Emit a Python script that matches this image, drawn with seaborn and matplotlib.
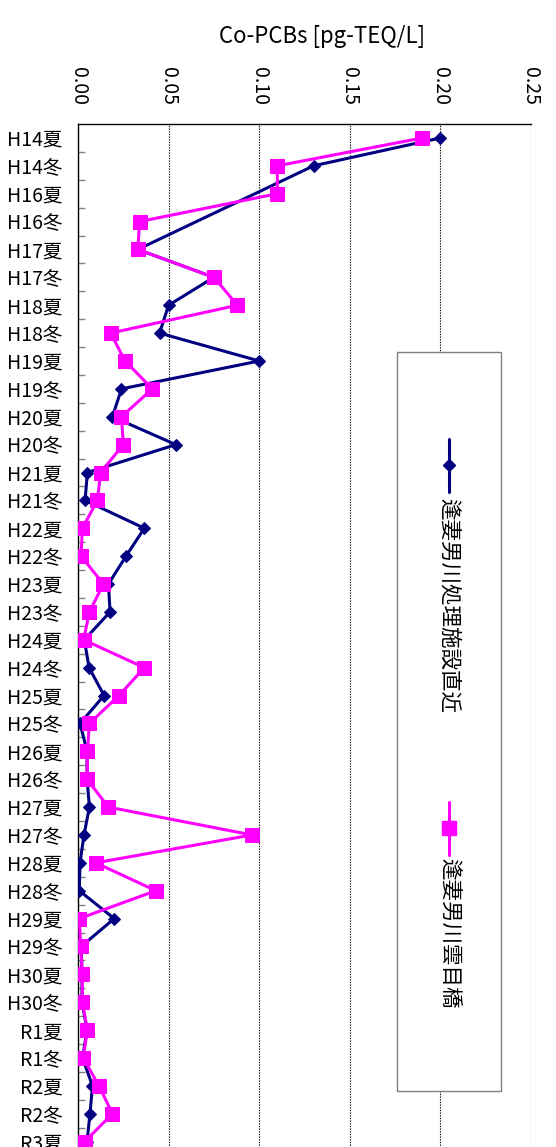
import numpy as np
import pandas as pd
import matplotlib
matplotlib.use("Agg")
import matplotlib.pyplot as plt
from matplotlib.lines import Line2D
from matplotlib.patches import Rectangle
import seaborn as sns

# Survey periods (top to bottom)
categories = [
    "H14夏", "H14冬", "H16夏", "H16冬", "H17夏", "H17冬", "H18夏", "H18冬",
    "H19夏", "H19冬", "H20夏", "H20冬", "H21夏", "H21冬", "H22夏", "H22冬",
    "H23夏", "H23冬", "H24夏", "H24冬", "H25夏", "H25冬", "H26夏", "H26冬",
    "H27夏", "H27冬", "H28夏", "H28冬", "H29夏", "H29冬", "H30夏", "H30冬",
    "R1夏", "R1冬", "R2夏", "R2冬", "R3夏",
]

# Co-PCBs concentration [pg-TEQ/L]
site_a_name = "逢妻男川処理施設直近"
site_a = [
    0.200, 0.130, np.nan, np.nan, 0.033, 0.075, 0.050, 0.045,
    0.100, 0.024, 0.019, 0.054, 0.0052, 0.0039, 0.0366, 0.0265,
    0.0168, 0.0177, 0.0035, 0.0061, 0.0144, 0.0011, 0.0050, 0.0050,
    0.0063, 0.0033, 0.0011, 0.0007, 0.0200, 0.0018, 0.0022, 0.0022,
    0.0050, 0.0025, 0.0080, 0.0066, 0.0050,
]

site_b_name = "逢妻男川雲目橋"
site_b = [
    0.190, 0.110, 0.110, 0.034, 0.033, 0.075, 0.088, 0.018,
    0.026, 0.041, 0.024, 0.025, 0.0125, 0.0107, 0.0024, 0.0017,
    0.0140, 0.0063, 0.0031, 0.0366, 0.0226, 0.0063, 0.0052, 0.0050,
    0.0167, 0.096, 0.0098, 0.043, 0.0007, 0.0015, 0.0024, 0.0024,
    0.0052, 0.0028, 0.0116, 0.019, 0.0037,
]

x_ticks = [0.00, 0.05, 0.10, 0.15, 0.20, 0.25]
x_tick_labels = ["0.00", "0.05", "0.10", "0.15", "0.20", "0.25"]
axis_title = "Co-PCBs [pg-TEQ/L]"

sns.set_theme(style="white")
plt.rcParams["font.family"] = ["Noto Sans CJK JP", "DejaVu Sans"]

W, H = 556, 1147
fig = plt.figure(figsize=(W / 100, H / 100), dpi=100)

n = len(categories)
row_h = 27.88
top_px, left_px, width_px = 124, 78, 453
height_px = n * row_h
ax = fig.add_axes([left_px / W, 1 - (top_px + height_px) / H, width_px / W, height_px / H])

pos = np.arange(n)
navy = "#000080"
magenta = "#FF00FF"

df_a = pd.DataFrame({"pos": pos, "value": site_a}).dropna()
df_b = pd.DataFrame({"pos": pos, "value": site_b}).dropna()

sns.lineplot(data=df_a, x="value", y="pos", orient="y", sort=False, estimator=None,
             color=navy, lw=2.2, marker="D", markersize=6.5,
             markeredgecolor=navy, markerfacecolor=navy, ax=ax, zorder=3)
sns.lineplot(data=df_b, x="value", y="pos", orient="y", sort=False, estimator=None,
             color=magenta, lw=2.2, marker="s", markersize=10,
             markeredgecolor=magenta, markerfacecolor=magenta, ax=ax, zorder=4)

ax.set_xlim(0, 0.25)
ax.set_ylim(n - 0.5, -0.5)
ax.set_xlabel("")
ax.set_ylabel("")

ax.xaxis.tick_top()
ax.set_xticks(x_ticks)
ax.set_xticklabels(x_tick_labels, rotation=-90)
ax.tick_params(axis="x", top=True, bottom=False, length=0, pad=14, labelsize=14,
               colors="black")

ax.set_yticks(pos)
ax.set_yticklabels(categories)
ax.set_yticks(pos[:-1] + 0.5, minor=True)
ax.tick_params(axis="y", which="major", length=0, pad=11, labelsize=14, colors="black")
ax.tick_params(axis="y", which="minor", left=True, direction="in", length=5,
               width=1, color="#808080")

ax.grid(axis="x", linestyle=(0, (1.2, 1.2)), color="black", lw=0.8)
ax.grid(axis="y", visible=False)
for side in ("right", "bottom"):
    ax.spines[side].set_visible(False)
for side in ("top", "left"):
    ax.spines[side].set_color("black")
    ax.spines[side].set_linewidth(1.0)

fig.text(322 / W, 1 - 37 / H, axis_title, ha="center", va="center", fontsize=16,
         color="black")

# Legend box with vertical entries
fig.patches.append(Rectangle((397 / W, 1 - 1091 / H), 104 / W, 739 / H,
                             transform=fig.transFigure, facecolor="white",
                             edgecolor="#808080", lw=1.0, zorder=5))
lx = 449 / W
entries = [
    (site_a_name, navy, "D", 6.5, 439, 492, 465, 498),
    (site_b_name, magenta, "s", 10, 802, 855, 828, 858),
]
for name, col, mk, ms, y0, y1, ym, yt in entries:
    fig.add_artist(Line2D([lx, lx], [1 - y0 / H, 1 - y1 / H], transform=fig.transFigure,
                          color=col, lw=2.2, zorder=6))
    fig.add_artist(Line2D([lx], [1 - ym / H], transform=fig.transFigure, color=col,
                          marker=mk, markersize=ms, markeredgecolor=col,
                          markerfacecolor=col, zorder=6))
    fig.text(lx, 1 - yt / H, name, rotation=-90, ha="center", va="top",
             fontsize=15.5, color="black", zorder=7)

fig.savefig("out.png", dpi=100)
